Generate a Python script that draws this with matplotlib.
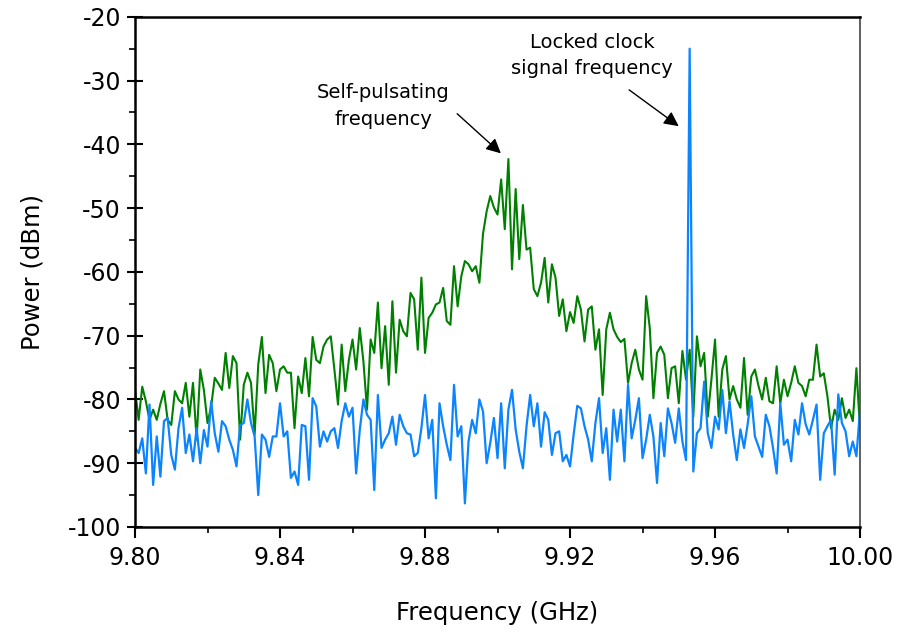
import numpy as np
import matplotlib
matplotlib.use('Agg')
import matplotlib.pyplot as plt
from matplotlib.ticker import MultipleLocator

plt.rcParams['axes.unicode_minus'] = False

# sweep grid, 1 MHz steps from 9.80 to 10.00 GHz
freq = np.linspace(9.80, 10.00, 201)

# free running laser (self-pulsating), dBm
free_running = [
    -78.5, -83.2, -78.0, -80.3, -83.2, -81.6, -83.2, -80.7, -78.7, -83.2,
    -84.0, -78.7, -80.0, -80.6, -77.4, -82.7, -77.4, -86.3, -75.3, -78.5,
    -83.7, -81.1, -76.6, -77.5, -78.5, -72.7, -78.2, -73.2, -74.3, -86.3,
    -77.7, -75.8, -77.4, -85.5, -74.5, -70.2, -79.0, -73.0, -74.3, -78.7,
    -75.3, -74.8, -75.8, -75.8, -84.5, -76.4, -79.0, -73.5, -79.5, -70.2,
    -73.8, -74.3, -71.7, -70.6, -70.1, -75.3, -80.8, -71.4, -78.7, -73.8,
    -70.6, -75.3, -68.8, -74.0, -81.6, -70.6, -72.7, -64.8, -75.1, -68.5,
    -77.7, -64.6, -75.8, -67.5, -69.3, -70.1, -63.3, -64.3, -72.2, -60.9,
    -72.7, -67.2, -66.4, -65.1, -64.8, -62.5, -67.7, -68.3, -59.1, -65.4,
    -60.7, -58.3, -58.8, -59.9, -59.1, -61.7, -54.0, -50.5, -48.1, -49.9,
    -51.0, -45.5, -53.3, -42.3, -59.6, -47.0, -58.0, -49.5, -56.5, -56.2,
    -62.7, -63.8, -61.7, -57.8, -64.8, -58.8, -60.9, -66.9, -64.3, -69.3,
    -66.3, -68.0, -63.8, -65.9, -70.9, -65.9, -65.4, -72.2, -69.0, -79.3,
    -69.0, -66.4, -69.0, -70.2, -71.0, -70.5, -77.4, -74.3, -72.2, -75.3,
    -76.9, -63.8, -68.8, -79.8, -72.7, -71.7, -73.0, -79.8, -75.1, -74.8,
    -80.6, -72.4, -76.9, -72.2, -82.7, -70.1, -74.8, -72.7, -82.7, -76.9,
    -70.6, -82.7, -75.3, -73.2, -80.0, -77.9, -80.0, -81.3, -73.5, -82.4,
    -76.4, -75.3, -77.9, -80.0, -76.6, -80.3, -80.6, -74.8, -80.6, -76.9,
    -79.5, -77.4, -74.8, -77.4, -77.9, -79.5, -76.9, -76.9, -71.4, -76.4,
    -75.9, -79.5, -84.5, -81.6, -83.2, -79.8, -82.9, -81.6, -83.4, -75.1,
    -84.7,
]

# locked (clock recovered) laser, dBm
locked = [
    -87.6, -88.4, -86.1, -91.6, -80.8, -93.4, -85.8, -92.1, -83.4, -82.9,
    -88.7, -91.0, -84.5, -81.3, -88.4, -85.5, -89.7, -84.5, -90.0, -84.8,
    -87.4, -80.3, -85.3, -88.2, -83.4, -84.2, -86.3, -87.9, -90.5, -84.0,
    -83.7, -80.0, -83.7, -85.8, -95.0, -85.5, -86.3, -89.0, -85.8, -85.8,
    -80.6, -85.8, -85.0, -92.3, -91.3, -93.4, -84.0, -84.2, -92.6, -79.8,
    -81.1, -87.4, -85.0, -86.6, -85.0, -84.5, -87.6, -83.4, -80.6, -82.7,
    -81.3, -91.6, -84.8, -80.0, -82.4, -83.2, -94.2, -79.3, -87.6, -86.3,
    -85.3, -82.7, -87.1, -82.4, -84.2, -85.3, -85.5, -88.9, -88.4, -84.5,
    -79.3, -86.1, -83.2, -95.5, -80.6, -84.2, -87.1, -89.5, -77.7, -85.8,
    -84.2, -96.3, -86.6, -83.2, -85.3, -80.0, -81.9, -90.0, -86.8, -82.9,
    -89.2, -80.6, -90.8, -81.6, -78.5, -84.7, -88.2, -90.8, -84.2, -79.3,
    -84.2, -80.6, -87.4, -82.0, -83.2, -88.7, -85.3, -85.0, -89.7, -88.7,
    -90.5, -85.5, -81.0, -81.4, -84.2, -86.3, -89.7, -83.7, -79.8, -88.4,
    -84.5, -92.6, -81.6, -86.6, -81.6, -89.7, -77.7, -86.1, -83.2, -79.8,
    -89.2, -86.3, -82.4, -85.8, -93.1, -83.7, -88.9, -81.4, -83.7, -86.8,
    -81.4, -86.6, -89.5, -25.0, -91.3, -85.3, -84.5, -77.2, -85.3, -87.6,
    -82.7, -84.7, -78.5, -85.3, -80.3, -85.5, -89.5, -84.7, -87.6, -83.9,
    -79.5, -85.8, -87.4, -89.0, -82.4, -84.2, -87.6, -91.6, -80.6, -87.1,
    -86.3, -89.7, -83.2, -85.5, -80.6, -83.9, -85.5, -83.2, -80.8, -92.6,
    -85.3, -84.2, -83.2, -91.8, -79.2, -83.7, -85.0, -88.9, -86.6, -88.9,
    -81.6,
]

xticks = [9.80, 9.84, 9.88, 9.92, 9.96, 10.00]
yticks = [-100, -90, -80, -70, -60, -50, -40, -30, -20]

fig = plt.figure(figsize=(9, 6.38), dpi=100)
ax = fig.add_axes([0.15, 0.174, 0.8056, 0.7996])

ax.plot(freq, free_running, color='#008000', lw=1.5)
ax.plot(freq, locked, color='#0a84ff', lw=1.6)

ax.set_xlim(9.80, 10.00)
ax.set_ylim(-100, -20)
ax.set_xticks(xticks)
ax.set_xticklabels(['%.2f' % t for t in xticks])
ax.set_yticks(yticks)
ax.xaxis.set_minor_locator(MultipleLocator(0.02))
ax.yaxis.set_minor_locator(MultipleLocator(5))

ax.tick_params(axis='x', which='major', direction='out', length=8, width=1.5,
               labelsize=17, pad=6)
ax.tick_params(axis='x', which='minor', direction='out', length=4, width=1.2)
ax.tick_params(axis='y', which='major', direction='inout', length=12, width=1.5,
               labelsize=17, pad=4)
ax.tick_params(axis='y', which='minor', direction='out', length=4, width=1.2)

for s in ['left', 'bottom', 'top']:
    ax.spines[s].set_linewidth(1.8)
ax.spines['right'].set_linewidth(1.2)
ax.spines['right'].set_color('#444444')

ax.set_xlabel('Frequency (GHz)', fontsize=17.5, labelpad=22)
ax.set_ylabel('Power (dBm)', fontsize=17.5, labelpad=17)

arrow = dict(arrowstyle='-|>', color='black', lw=1.0, mutation_scale=22)
ax.annotate('', xy=(9.9015, -41.7), xytext=(9.8883, -34.9), arrowprops=arrow)
ax.text(9.8684, -34.0, 'Self-pulsating\nfrequency', ha='center', va='center',
        fontsize=14, linespacing=1.5)
ax.annotate('', xy=(9.9506, -37.4), xytext=(9.9357, -31.2), arrowprops=arrow)
ax.text(9.9261, -26.1, 'Locked clock\nsignal frequency', ha='center',
        va='center', fontsize=14, linespacing=1.5)

fig.savefig('out.png', dpi=100)
